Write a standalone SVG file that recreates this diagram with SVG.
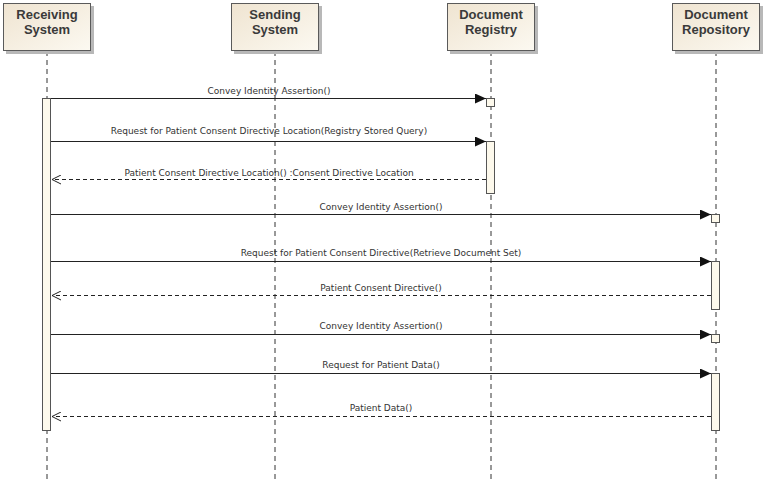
<svg xmlns="http://www.w3.org/2000/svg" width="766" height="483" viewBox="0 0 766 483">
<style>
.head{fill:url(#hg);stroke:#5a5a5a;stroke-width:1}
.shadow{fill:#b8b8b8}
.ht{font-family:"Liberation Sans",Arial,sans-serif;font-size:13px;font-weight:bold;fill:#3a3a3a;text-anchor:middle}
.life{stroke:#333;stroke-width:1;stroke-dasharray:5,4;fill:none}
.act{fill:#fdf9ec;stroke:#555;stroke-width:1}
.msg{stroke:#222;stroke-width:1;fill:none}
.ret{stroke:#222;stroke-width:1;fill:none;stroke-dasharray:4,3}
.lbl{font-family:"DejaVu Sans",Verdana,sans-serif;font-size:9px;fill:#333;text-anchor:middle}
</style>
<defs>
<linearGradient id="hg" x1="0" y1="0" x2="1" y2="1">
<stop offset="0" stop-color="#efe4d1"/>
<stop offset="1" stop-color="#fcf9f1"/>
</linearGradient>
<marker id="sync" markerWidth="12" markerHeight="10" refX="11" refY="5" orient="auto" markerUnits="userSpaceOnUse">
<path d="M0,0 L11,5 L0,10 z" fill="#111"/>
</marker>
<marker id="open" markerWidth="12" markerHeight="10" refX="10" refY="5" orient="auto" markerUnits="userSpaceOnUse">
<path d="M1,0.5 L10,5 L1,9.5" fill="none" stroke="#222" stroke-width="1"/>
</marker>
</defs>
<rect width="766" height="483" fill="#fff"/>

<g id="receiving">
<line class="life" x1="47" y1="51" x2="47" y2="483"/>
<rect class="shadow" x="6" y="6" width="88" height="48"/>
<rect class="head" x="3.5" y="3.5" width="87" height="47"/>
<text class="ht" x="47" y="19">Receiving</text>
<text class="ht" x="47" y="34">System</text>
<rect class="act" x="42.5" y="98.5" width="8" height="332"/>
</g>

<g id="sending">
<line class="life" x1="275" y1="51" x2="275" y2="483"/>
<rect class="shadow" x="234" y="6" width="88" height="48"/>
<rect class="head" x="231.5" y="3.5" width="87" height="47"/>
<text class="ht" x="275" y="19">Sending</text>
<text class="ht" x="275" y="34">System</text>
</g>

<g id="registry">
<line class="life" x1="491" y1="51" x2="491" y2="483"/>
<rect class="shadow" x="450" y="6" width="88" height="48"/>
<rect class="head" x="447.5" y="3.5" width="87" height="47"/>
<text class="ht" x="491" y="19">Document</text>
<text class="ht" x="491" y="34">Registry</text>
<rect class="act" x="486.5" y="98.5" width="8" height="8" fill="#fff"/>
<rect class="act" x="486.5" y="141.5" width="8" height="52"/>
</g>

<g id="repository">
<line class="life" x1="716" y1="51" x2="716" y2="483"/>
<rect class="shadow" x="675" y="6" width="88" height="48"/>
<rect class="head" x="672.5" y="3.5" width="87" height="47"/>
<text class="ht" x="716" y="19">Document</text>
<text class="ht" x="716" y="34">Repository</text>
<rect class="act" x="711.5" y="214.5" width="8" height="8"/>
<rect class="act" x="711.5" y="261.5" width="8" height="48"/>
<rect class="act" x="711.5" y="334.5" width="8" height="8"/>
<rect class="act" x="711.5" y="373.5" width="8" height="57"/>
</g>

<g id="connectors">
<line class="msg" x1="51" y1="98.5" x2="486" y2="98.5" marker-end="url(#sync)"/>
<text class="lbl" x="269" y="94">Convey Identity Assertion()</text>

<line class="msg" x1="51" y1="141.5" x2="486" y2="141.5" marker-end="url(#sync)"/>
<text class="lbl" x="269" y="134">Request for Patient Consent Directive Location(Registry Stored Query)</text>

<line class="ret" x1="486" y1="179.5" x2="52" y2="179.5" marker-end="url(#open)"/>
<text class="lbl" x="269" y="176">Patient Consent Directive Location() :Consent Directive Location</text>

<line class="msg" x1="51" y1="214.5" x2="711" y2="214.5" marker-end="url(#sync)"/>
<text class="lbl" x="381" y="210">Convey Identity Assertion()</text>

<line class="msg" x1="51" y1="261.5" x2="711" y2="261.5" marker-end="url(#sync)"/>
<text class="lbl" x="381" y="256">Request for Patient Consent Directive(Retrieve Document Set)</text>

<line class="ret" x1="711" y1="295.5" x2="52" y2="295.5" marker-end="url(#open)"/>
<text class="lbl" x="381" y="291">Patient Consent Directive()</text>

<line class="msg" x1="51" y1="334.5" x2="711" y2="334.5" marker-end="url(#sync)"/>
<text class="lbl" x="381" y="329">Convey Identity Assertion()</text>

<line class="msg" x1="51" y1="373.5" x2="711" y2="373.5" marker-end="url(#sync)"/>
<text class="lbl" x="381" y="368">Request for Patient Data()</text>

<line class="ret" x1="711" y1="416.5" x2="52" y2="416.5" marker-end="url(#open)"/>
<text class="lbl" x="381" y="411">Patient Data()</text>
</g>
</svg>
